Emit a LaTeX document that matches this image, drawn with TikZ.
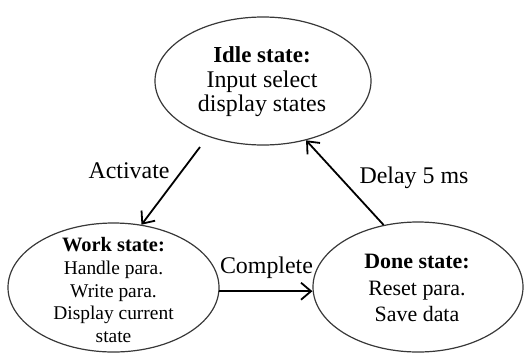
\documentclass[tikz,border=0pt]{standalone}
\usepackage{fontspec}
\setmainfont{Liberation Serif}
\usetikzlibrary{shapes.geometric,arrows.meta}

\begin{document}
\begin{tikzpicture}[x=1bp,y=-1bp,
  state/.style={draw=black!78, line width=1.2bp, ellipse, inner sep=0pt},
  statetext/.style={inner sep=0pt, align=center},
  trans/.style={draw=black, line width=1.8bp,
    -{Straight Barb[length=10bp,width=17bp,line width=1.8bp]}},
  lbl/.style={anchor=base, inner sep=0pt, font=\fontsize{24}{24}\selectfont}]
\useasboundingbox (0,0) rectangle (524,354);

% the three states
\node[state, minimum width=216bp, minimum height=128bp] (idle) at (263,81) {};
\node[state, minimum width=211bp, minimum height=129bp] (work) at (113.5,287.5) {};
\node[state, minimum width=210bp, minimum height=130bp] (done) at (418,287) {};

\node[statetext, font=\fontsize{24}{24.5}\selectfont] (idletext) at (262,82)
  {{\bfseries\fontsize{23}{24.5}\selectfont Idle state:}\\Input select\\display states};
\node[statetext, font=\fontsize{19.5}{23}\selectfont] (worktext) at (113.5,290)
  {{\bfseries\fontsize{20.5}{23}\selectfont Work state:}\\Handle para.\\Write para.\\Display current\\state};
\node[statetext, font=\fontsize{22}{27}\selectfont] (donetext) at (417,288)
  {{\bfseries\fontsize{22}{27}\selectfont Done state:}\\Reset para.\\Save data};

% transitions
\coordinate (actstart) at (200,147);
\draw[trans] (actstart) -- (work.66);
\draw[trans] (work.-2.5) -- (done.west |- work.-2.5);
\draw[trans] (done.119) -- (idle.-54);

% transition labels
\node[lbl] (actlbl) at (129,178) {Activate};
\node[lbl] (complbl) at (266.5,273) {Complete};
\node[lbl] (delaylbl) at (414,183) {Delay 5 ms};
\end{tikzpicture}
\end{document}
